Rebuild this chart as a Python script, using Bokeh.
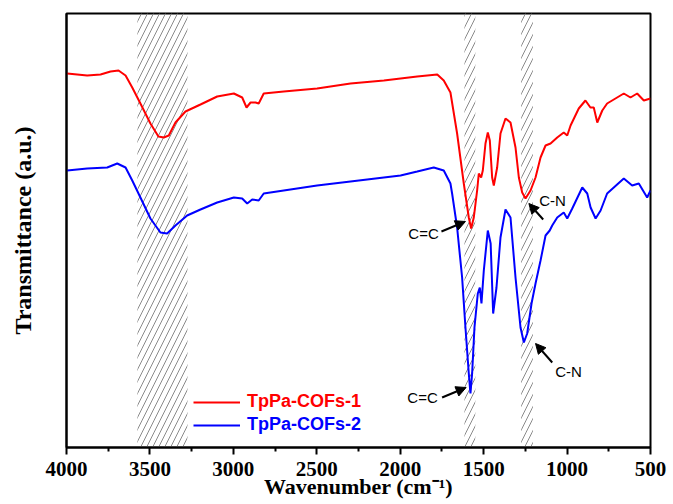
from bokeh.plotting import figure
from bokeh.models import (Range1d, FixedTicker, BoxAnnotation, Arrow, NormalHead,
                          Label, Legend, LegendItem)
from bokeh.embed import file_html
from bokeh.resources import INLINE

# ---- data (wavenumber in cm^-1, transmittance in arbitrary units) ----
wn_red = [3996, 3876, 3796, 3736, 3688, 3646, 3606, 3557, 3497, 3449, 3417, 3387, 3347, 3287,
          3197, 3097, 2997, 2947, 2921, 2897, 2867, 2848, 2818, 2698, 2498, 2298, 2098, 1898,
          1778, 1739, 1699, 1659, 1619, 1589, 1575, 1559, 1539, 1529, 1515, 1505, 1489, 1475,
          1463, 1449, 1439, 1419, 1399, 1369, 1339, 1309, 1289, 1269, 1249, 1219, 1189, 1159,
          1129, 1099, 1059, 1020, 999, 979, 930, 890, 860, 840, 819, 789, 760, 700, 660, 620,
          580, 540, 500]
t_red = [374, 372, 373, 376, 377, 372, 360, 344, 324, 311, 310, 312, 325, 336,
         343, 351, 354, 350, 340, 345, 345, 344, 354, 356, 359, 364, 367, 371,
         373, 367, 355, 314, 264, 230, 219, 230, 257, 274, 270, 277, 304, 315,
         307, 270, 262, 280, 314, 329, 325, 300, 270, 255, 249, 257, 270, 290,
         302, 304, 310, 315, 312, 322, 339, 347, 340, 340, 325, 337, 344, 350, 354, 350,
         354, 347, 349]

wn_blue = [3996, 3876, 3756, 3696, 3646, 3606, 3557, 3497, 3437, 3397, 3347, 3277, 3197, 3097,
           2997, 2947, 2917, 2887, 2848, 2818, 2698, 2498, 2298, 2098, 1998, 1898, 1799, 1739,
           1699, 1689, 1659, 1629, 1609, 1589, 1579, 1569, 1555, 1535, 1523, 1513, 1499, 1475,
           1458, 1443, 1423, 1399, 1369, 1339, 1309, 1279, 1259, 1239, 1213, 1189, 1159, 1129,
           1104, 1089, 1059, 1020, 999, 969, 909, 879, 859, 829, 799, 760, 660, 610, 570, 520, 500]
t_blue = [277, 279, 280, 284, 280, 267, 250, 229, 215, 214, 222, 232, 238, 245,
          250, 249, 244, 248, 247, 254, 257, 262, 266, 270, 272, 276, 280, 277,
          264, 254, 220, 170, 120, 74, 54, 74, 120, 154, 160, 144, 177, 217,
          204, 134, 160, 210, 238, 230, 170, 120, 105, 114, 144, 164, 187, 212,
          217, 222, 230, 235, 229, 239, 260, 254, 240, 229, 237, 254, 269, 262, 264, 250, 257]

band_start = [3575, 1615, 1275]
band_end = [3275, 1550, 1205]

x_ticks = [4000, 3500, 3000, 2500, 2000, 1500, 1000, 500]
x_minor = [3750, 3250, 2750, 2250, 1750, 1250, 750]

series_names = ["TpPa-COFs-1", "TpPa-COFs-2"]
series_colors = ["#ff0000", "#0000ff"]

# ---- figure ----
p = figure(frame_width=584, frame_height=434,
           x_range=Range1d(4000, 500), y_range=Range1d(0, 434),
           output_backend="svg", toolbar_location=None,
           min_border_left=66, min_border_right=23, min_border_top=13, min_border_bottom=0)
p.background_fill_color = "white"
p.border_fill_color = "white"
p.xgrid.visible = False
p.ygrid.visible = False
p.outline_line_color = "black"
p.outline_line_width = 2

for a, b in zip(band_start, band_end):
    p.add_layout(BoxAnnotation(left=a, right=b, fill_color=None, fill_alpha=0,
                               line_color=None, hatch_pattern="/", hatch_color="#8a8a8a",
                               hatch_scale=12, hatch_weight=1, level="underlay"))

r1 = p.line(wn_red, t_red, line_color=series_colors[0], line_width=2)
r2 = p.line(wn_blue, t_blue, line_color=series_colors[1], line_width=2)

# axes
xa = p.xaxis[0]
xa.ticker = FixedTicker(ticks=x_ticks, minor_ticks=x_minor)
xa.axis_line_width = 2
xa.major_tick_line_width = 2
xa.minor_tick_line_width = 2
xa.major_tick_out = 7
xa.major_tick_in = 0
xa.minor_tick_out = 4
xa.minor_tick_in = 0
xa.major_label_text_font = "Liberation Serif"
xa.major_label_text_font_style = "bold"
xa.major_label_text_font_size = "21px"
xa.major_label_text_color = "black"
xa.major_label_standoff = 7
xa.axis_label = "Wavenumber (cm\u207b\u00b9)"
xa.axis_label_text_font = "Liberation Serif"
xa.axis_label_text_font_style = "bold"
xa.axis_label_text_font_size = "22px"
xa.axis_label_text_color = "black"
xa.axis_label_standoff = -5

ya = p.yaxis[0]
ya.ticker = FixedTicker(ticks=[])
ya.axis_line_width = 2
ya.major_tick_line_color = None
ya.minor_tick_line_color = None
ya.major_label_text_font_size = "0px"
ya.axis_label = "Transmittance (a.u.)"
ya.axis_label_text_font = "Liberation Serif"
ya.axis_label_text_font_style = "bold"
ya.axis_label_text_font_size = "24px"
ya.axis_label_text_color = "black"
ya.axis_label_standoff = 31

# annotations
ann_text = ["C=C", "C-N", "C-N", "C=C"]
ann_xy = [(1860, 214), (1087, 247), (991, 76), (1866, 50)]
arrows = [((1753, 216), (1609, 226)), ((1143, 228), (1229, 244)),
          ((1089, 85), (1189, 104)), ((1749, 50), (1605, 60))]
for t, (x, y) in zip(ann_text, ann_xy):
    p.add_layout(Label(x=x, y=y, text=t, text_align="center", text_baseline="middle",
                       text_font="Liberation Sans", text_font_size="15px", text_color="black"))
for (x0, y0), (x1, y1) in arrows:
    p.add_layout(Arrow(x_start=x0, y_start=y0, x_end=x1, y_end=y1, line_width=2,
                       line_color="black",
                       end=NormalHead(size=10, fill_color="black", line_color="black")))

# legends (separate so each label has its own colour)
for i, (r, name, col) in enumerate(zip([r1, r2], series_names, series_colors)):
    lg = Legend(items=[LegendItem(label=name, renderers=[r])],
                location=(127, 35 - 23 * i), orientation="vertical",
                glyph_width=47, glyph_height=20, label_height=20, label_standoff=7,
                padding=0, margin=0, spacing=0,
                label_text_font="Liberation Sans", label_text_font_style="bold",
                label_text_font_size="18px", label_text_color=col,
                border_line_color=None, background_fill_alpha=0)
    p.add_layout(lg)

html = file_html(p, INLINE)
html = html.replace("<head>", "<head><style>html,body{overflow:hidden;}</style>", 1)
open("out.html", "w").write(html)
